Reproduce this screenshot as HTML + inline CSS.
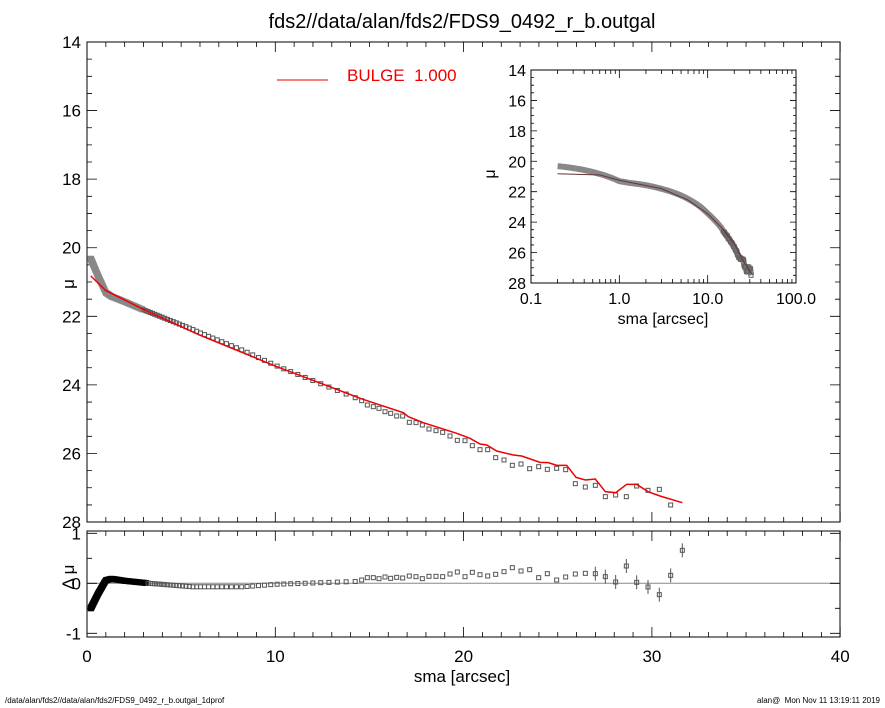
<!DOCTYPE html>
<html><head><meta charset="utf-8"><style>
body{margin:0;background:#fff}
svg{display:block;font-family:"Liberation Sans",sans-serif}
</style></head><body>
<svg id="s" width="885" height="708" xmlns="http://www.w3.org/2000/svg"></svg>
<script>
const S=document.getElementById('s');let h='';
const X=r=>87+r*18.83, Y=m=>42+(m-14)*34.29, RY=d=>583.3-d*50;
const LX=r=>531+88.33*Math.log10(r/0.1), LY=m=>70+(m-14)*15.21;
function interp(p,x){if(x<=p[0][0])return p[0][1];for(let i=1;i<p.length;i++)if(x<=p[i][0]){const a=p[i-1],b=p[i];return a[1]+(b[1]-a[1])*(x-a[0])/(b[0]-a[0]);}return p[p.length-1][1];}
const modelIn=[[0.2,20.82],[1,21.25],[3,21.8],[6,22.55],[10,23.45],[14.5,24.39]];
const resIn=[[0.2,-0.5],[0.6,-0.2],[1.0,0.06],[1.3,0.09],[2,0.05],[3.3,0],[5.6,-0.07],[8.3,-0.07],[10,-0.02],[14.5,0.04]];
const px=v=>360+v/3;
const mainPts=[[5,62],[22,75],[40,80],[57,85],[75,95],[92,100],[110,108],[128,108],[148,127],[168,128],[187,135],[207,147],[228,152],[248,157],[270,168],[292,181],[315,182],[337,197],[360,209],[383,209],[407,233],[432,240],[457,256],[483,252],[509,266],[536,260],[562,268],[590,265],[617,269],[646,311],[676,321],[706,316],[736,350],[767,345],[799,350],[830,318],[864,331],[898,328],[932,375]];
const resPts=[[5,600],[22,593],[40,593],[57,596],[75,591],[92,595],[110,592],[128,594],[148,588],[168,590],[187,596],[207,589],[228,589],[248,590],[270,582],[292,576],[315,590],[337,577],[360,584],[383,588],[407,583],[432,575],[457,563],[483,573],[509,569],[536,593],[562,581],[590,600],[617,591],[646,582],[676,580],[706,581],[736,590],[767,606],[799,558],[830,607],[864,621],[898,644],[932,586],[967,511]];
const redPts=[[0,55],[130,98],[145,110],[190,128],[290,160],[330,175],[360,192],[380,195],[410,213],[460,225],[485,228],[540,247],[565,248],[590,256],[620,256],[648,292],[676,300],[706,297],[736,335],[767,338],[800,313],[830,313],[864,335],[900,348],[967,368]];
h+=`<rect x="87" y="42" width="753" height="480" fill="none" stroke="#000" stroke-width="1"/>`;
h+=`<rect x="87" y="531" width="753" height="106" fill="none" stroke="#000" stroke-width="1"/>`;
h+=`<line x1="87" y1="583.3" x2="840" y2="583.3" stroke="#888" stroke-width="1"/>`;
for(let r=0;r<=40;r++){const x=X(r),L=r%10?5:10;
h+=`<path d="M${x} 522v-${L}M${x} 42v${L}M${x} 637v-${L}M${x} 531v${L}" stroke="#000" stroke-width="0.8"/>`;}
for(let m=14;m<=28;m+=0.5){const y=Y(m),L=m%2?5:10;h+=`<path d="M87 ${y}h${L}M840 ${y}h-${L}" stroke="#000" stroke-width="0.8"/>`;
if(m%2==0)h+=`<text x="81" y="${y+6}" font-size="17" text-anchor="end">${m}</text>`;}
for(let d=-1;d<=1;d+=0.5){const y=RY(d),L=d%1?5:10;h+=`<path d="M87 ${y}h${L}M840 ${y}h-${L}" stroke="#000" stroke-width="0.8"/>`;
if(d%1==0)h+=`<text x="81" y="${y+6}" font-size="17" text-anchor="end">${d}</text>`;}
[0,10,20,30,40].forEach(r=>h+=`<text x="${X(r)}" y="662" font-size="17" text-anchor="middle">${r}</text>`);
h+=`<text x="462" y="682" font-size="17" text-anchor="middle">sma [arcsec]</text>`;
h+=`<text x="462" y="28" font-size="20" text-anchor="middle">fds2//data/alan/fds2/FDS9_0492_r_b.outgal</text>`;
h+=`<text x="74" y="296" font-size="17" text-anchor="middle" transform="rotate(-90 68 290)">μ</text>`;
h+=`<text x="74" y="589" font-size="17" text-anchor="middle" transform="rotate(-90 68 583)">Δ μ</text>`;
h+=`<line x1="277" y1="80" x2="328" y2="80" stroke="#e00" stroke-width="1"/><text x="347" y="81" font-size="17" fill="#e00">BULGE&#160;&#160;1.000</text>`;
let inner=[];for(let r=0.2;X(r)<357;r*=1.035)inner.push(r);
inner.forEach(r=>{const m=interp(modelIn,r),d=interp(resIn,r);const x=X(r);
 h+=`<rect x="${x-2}" y="${Y(m+d)-2}" width="4" height="4" fill="none" stroke="${r<3?'#888':'#555'}" stroke-width="${r<3?2:1}"/>`;
 h+=`<rect x="${x-2}" y="${RY(d)-2}" width="4" height="4" fill="${r<3.2?'#000':'none'}" stroke="${r<3.2?'#000':'#555'}" stroke-width="${r<3.2?2:1}"/>`;});
let rl=modelIn.map(p=>`${X(p[0])},${Y(p[1])}`).join(' ');
redPts.forEach(p=>rl+=` ${px(p[0])},${380+p[1]/3}`);
mainPts.forEach(p=>h+=`<rect x="${px(p[0])-2}" y="${380+p[1]/3-2}" width="4" height="4" fill="none" stroke="#555" stroke-width="1"/>`);
resPts.forEach((p,i)=>{const x=px(p[0]),y=380+p[1]/3;if(i>30)h+=`<line x1="${x}" y1="${y-7}" x2="${x}" y2="${y+7}" stroke="#555"/>`;h+=`<rect x="${x-2}" y="${y-2}" width="4" height="4" fill="none" stroke="#555" stroke-width="1"/>`;});
h+=`<polyline points="${rl}" fill="none" stroke="#e00" stroke-width="1.5"/>`;
h+=`<rect x="531" y="70" width="265" height="213" fill="#fff" stroke="#000" stroke-width="1"/>`;
for(let m=14;m<=28;m+=0.5){const y=LY(m),L=m%2?3:6;h+=`<path d="M531 ${y}h${L}M796 ${y}h-${L}" stroke="#000" stroke-width="0.8"/>`;
if(m%2==0)h+=`<text x="526" y="${y+6}" font-size="16" text-anchor="end">${m}</text>`;}
[0.1,1,10,100].forEach((r,i)=>{const x=LX(r);h+=`<path d="M${x} 283v-8M${x} 70v8" stroke="#000" stroke-width="0.8"/>`;
h+=`<text x="${x}" y="304" font-size="16" text-anchor="middle">${['0.1','1.0','10.0','100.0'][i]}</text>`;
if(r<100)for(let k=2;k<10;k++){const xx=LX(r*k);h+=`<path d="M${xx} 283v-4M${xx} 70v4" stroke="#000" stroke-width="0.8"/>`;}});
h+=`<text x="663" y="324" font-size="16" text-anchor="middle">sma [arcsec]</text>`;
h+=`<text x="494" y="183" font-size="16" text-anchor="middle" transform="rotate(-90 490 178)">μ</text>`;
let lp=[];inner.forEach(r=>lp.push([r,interp(modelIn,r)+interp(resIn,r)]));
mainPts.forEach(p=>lp.push([(px(p[0])-87)/18.83,14+(380+p[1]/3-42)/34.29]));
h+=`<polyline points="${lp.map(p=>LX(p[0])+','+LY(p[1])).join(' ')}" fill="none" stroke="#888" stroke-width="6" stroke-linejoin="round"/>`;
lp.forEach(p=>{if(p[0]>15)h+=`<rect x="${LX(p[0])-2}" y="${LY(p[1])-2}" width="4" height="4" fill="none" stroke="#666"/>`;});
let lm=[[0.2,20.82],[0.6,20.9],[1,21.25],[3,21.8],[6,22.55],[10,23.45],[14.5,24.39],[20,25.4],[25,26.5],[31.5,27.4]];
h+=`<polyline points="${lm.map(p=>LX(p[0])+','+LY(p[1])).join(' ')}" fill="none" stroke="#633" stroke-width="1"/>`;
h+=`<text x="5" y="703" font-size="8">/data/alan/fds2//data/alan/fds2/FDS9_0492_r_b.outgal_1dprof</text>`;
h+=`<text x="880" y="703" font-size="8" text-anchor="end">alan@&#160;&#160;Mon Nov 11 13:19:11 2019</text>`;
S.innerHTML=h;
</script>
</body></html>
